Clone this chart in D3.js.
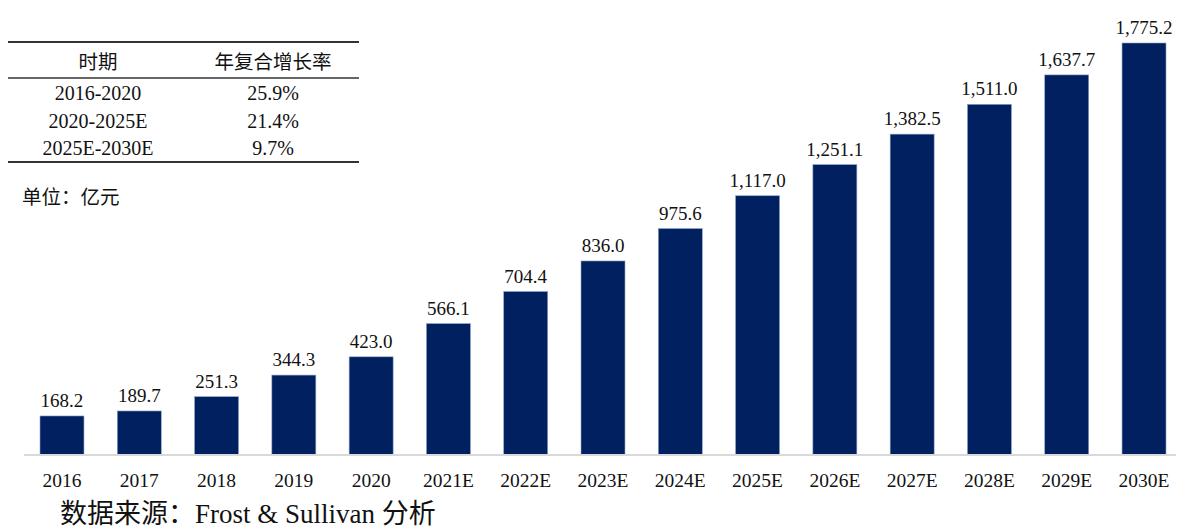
<!DOCTYPE html>
<html>
<head>
<meta charset="utf-8">
<script src="https://cdn.jsdelivr.net/npm/d3@7"></script>
<style>
  body { margin: 0; background: #fff; }
  text { font-family: "Liberation Serif", "Noto Sans CJK SC", serif; fill: #111; }
</style>
</head>
<body>
<div id="chart"></div>
<script>
// market size data (亿元)
var years = ["2016", "2017", "2018", "2019", "2020", "2021E", "2022E", "2023E",
             "2024E", "2025E", "2026E", "2027E", "2028E", "2029E", "2030E"];
var values = [168.2, 189.7, 251.3, 344.3, 423.0, 566.1, 704.4, 836.0,
              975.6, 1117.0, 1251.1, 1382.5, 1511.0, 1637.7, 1775.2];

// CAGR table
var periods = ["2016-2020", "2020-2025E", "2025E-2030E"];
var cagrs = ["25.9%", "21.4%", "9.7%"];

var width = 1179, height = 528;
var margin = {top: 43, bottom: 73, left: 24};

var svg = d3.select("#chart").append("svg")
    .attr("width", width)
    .attr("height", height);

// band: step ~77.3px, bar ~44px, first bar at x=40
var x = d3.scaleBand()
    .domain(years)
    .range([margin.left, 1182])
    .paddingInner(0.431)
    .paddingOuter(0.207);

var y = d3.scaleLinear()
    .domain([0, d3.max(values)])
    .range([height - margin.bottom, margin.top]);

var data = years.map(function(d, i) { return {year: d, value: values[i]}; });

// bars
svg.selectAll(".bar")
    .data(data)
  .enter().append("rect")
    .attr("class", "bar")
    .attr("x", function(d) { return x(d.year); })
    .attr("width", x.bandwidth())
    .attr("y", function(d) { return y(d.value); })
    .attr("height", function(d) { return y(0) - y(d.value); })
    .attr("fill", "#002060")
    .attr("stroke", "#8ea2c8")
    .attr("stroke-width", 0.6);

// value labels
svg.selectAll(".label")
    .data(data)
  .enter().append("text")
    .attr("x", function(d) { return x(d.year) + x.bandwidth() / 2; })
    .attr("y", function(d) { return y(d.value) - 9; })
    .attr("text-anchor", "middle")
    .style("font-size", "19px")
    .text(function(d) { return d3.format(",.1f")(d.value); });

// x axis
var xAxis = svg.append("g")
    .attr("transform", "translate(0," + y(0) + ")")
    .call(d3.axisBottom(x).tickSize(0).tickPadding(18));
xAxis.select(".domain").attr("stroke", "#d9d9d9").attr("stroke-width", 2)
    .attr("d", "M24,0H1176");
xAxis.selectAll("text")
    .style("font-size", "19.5px")
    .style("font-family", "Liberation Serif, serif")
    .attr("fill", "#111");

// CAGR table
var table = svg.append("g");
var col1 = 98, col2 = 273;
table.append("line").attr("x1", 8).attr("x2", 359).attr("y1", 42).attr("y2", 42)
    .attr("stroke", "#333").attr("stroke-width", 2);
table.append("line").attr("x1", 8).attr("x2", 359).attr("y1", 78).attr("y2", 78)
    .attr("stroke", "#333").attr("stroke-width", 1.5);
table.append("line").attr("x1", 8).attr("x2", 359).attr("y1", 162).attr("y2", 162)
    .attr("stroke", "#333").attr("stroke-width", 2);

table.append("text").attr("x", col1).attr("y", 69).attr("text-anchor", "middle")
    .style("font-size", "19.5px").text("时期");
table.append("text").attr("x", col2).attr("y", 69).attr("text-anchor", "middle")
    .style("font-size", "19.5px").text("年复合增长率");

periods.forEach(function(p, i) {
  var ty = 100 + i * 27.5;
  table.append("text").attr("x", col1).attr("y", ty).attr("text-anchor", "middle")
      .style("font-size", "20px").text(p);
  table.append("text").attr("x", col2).attr("y", ty).attr("text-anchor", "middle")
      .style("font-size", "20px").text(cagrs[i]);
});

svg.append("text").attr("x", 22).attr("y", 204)
    .style("font-size", "19.5px").text("单位：亿元");

// source note
svg.append("text").attr("x", 60).attr("y", 523)
    .style("font-size", "27px").text("数据来源：Frost & Sullivan 分析");
</script>
</body>
</html>
